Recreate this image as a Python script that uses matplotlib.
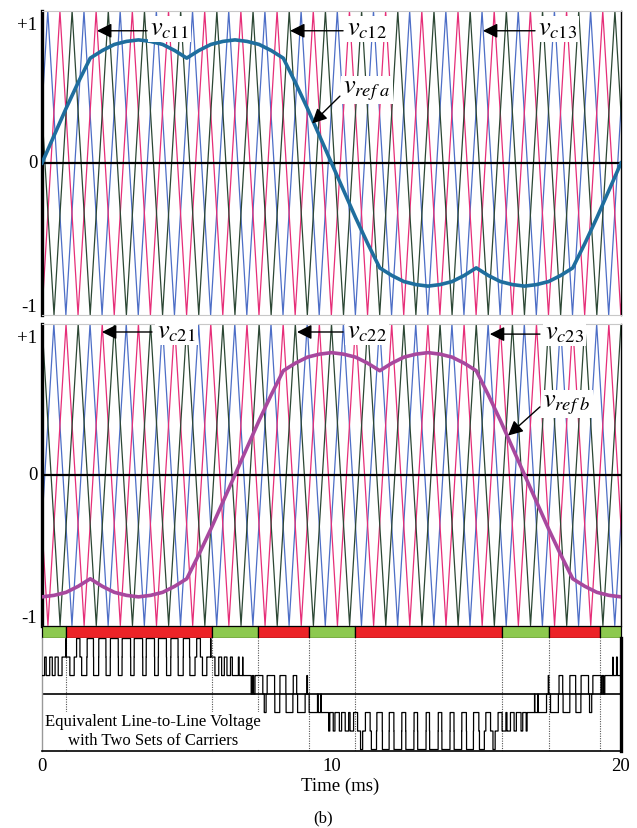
import numpy as np
import matplotlib
matplotlib.use("Agg")
import matplotlib.pyplot as plt

plt.rcParams['font.family'] = ['Liberation Serif', 'DejaVu Serif']
plt.rcParams['mathtext.fontset'] = 'stix'

# ---------------- data ----------------
time_ref_ms = np.linspace(0, 20, 49)          # sample instants (7.5 deg steps)
vref_a = [0.00, 0.18, 0.36, 0.53, 0.69, 0.74, 0.78, 0.80, 0.81, 0.80, 0.78, 0.74,
          0.69, 0.74, 0.78, 0.80, 0.81, 0.80, 0.78, 0.74, 0.69, 0.53, 0.36, 0.18,
          0.00, -0.18, -0.36, -0.53, -0.69, -0.74, -0.78, -0.80, -0.81, -0.80, -0.78, -0.74,
          -0.69, -0.74, -0.78, -0.80, -0.81, -0.80, -0.78, -0.74, -0.69, -0.53, -0.36, -0.18,
          0.00]
vref_b = [-0.81, -0.80, -0.78, -0.74, -0.69, -0.74, -0.78, -0.80, -0.81, -0.80, -0.78, -0.74,
          -0.69, -0.53, -0.36, -0.18, 0.00, 0.18, 0.36, 0.53, 0.69, 0.74, 0.78, 0.80,
          0.81, 0.80, 0.78, 0.74, 0.69, 0.74, 0.78, 0.80, 0.81, 0.80, 0.78, 0.74,
          0.69, 0.53, 0.36, 0.18, 0.00, -0.18, -0.36, -0.53, -0.69, -0.74, -0.78, -0.80,
          -0.81]

carrier_period_ms = 1.25
carrier_set1_peak_ms = [0.20, 0.62, 1.04]     # blue, pink, green (phase a)
carrier_set2_peak_ms = [0.41, 0.83, 1.25]     # blue, pink, green (phase b)
carrier_colors = ['#4D6EC6', '#E62E78', '#2C4734']

band_edges_ms = [0, 0.82, 5.87, 7.46, 9.22, 10.81, 15.89, 17.50, 19.26, 20]
band_colors = ['#8DC94F', '#EC2327', '#8DC94F', '#EC2327', '#8DC94F',
               '#EC2327', '#8DC94F', '#EC2327', '#8DC94F']

xtick_values = [0, 10, 20]
xtick_labels = ['0', '10', '20']

ref_a_color = '#1F6E9E'
ref_b_color = '#A8489E'

# ---------------- helpers ----------------
def carrier_vertices(tp, T, t0=-2.0, t1=22.0):
    k = np.arange(np.floor((t0 - tp) / (T / 2)), np.ceil((t1 - tp) / (T / 2)) + 1)
    t = tp + k * T / 2
    v = np.where(k % 2 == 0, 1.0, -1.0)
    return t, v

W, H = 637, 829
fig = plt.figure(figsize=(W / 100, H / 100), dpi=100)

def axes_px(x0, y0, x1, y1):
    return fig.add_axes([x0 / W, 1 - y1 / H, (x1 - x0) / W, (y1 - y0) / H])

ax1 = axes_px(42, 12, 621, 316)
ax2 = axes_px(42, 325, 621, 626.5)
axb = axes_px(42, 627, 621, 639)
ax3 = axes_px(42, 639, 621, 752)

def style_wave_axes(ax):
    ax.set_xlim(0, 20)
    ax.set_ylim(-1, 1)
    ax.set_xticks([])
    ax.set_yticks([])
    ax.spines['left'].set_linewidth(2.4)
    ax.spines['left'].set_color('black')
    ax.spines['right'].set_linewidth(1.0)
    ax.spines['right'].set_color('black')
    ax.spines['top'].set_color('#C8C8C8')
    ax.spines['bottom'].set_color('#C8C8C8')
    ax.axhline(0, color='black', lw=1.6, zorder=3)

for ax, peaks in ((ax1, carrier_set1_peak_ms), (ax2, carrier_set2_peak_ms)):
    style_wave_axes(ax)
    for tp, col in zip(peaks, carrier_colors):
        tv, vv = carrier_vertices(tp, carrier_period_ms)
        ax.plot(tv, vv, color=col, lw=0.9, zorder=2)

ax1.plot(time_ref_ms, vref_a, color=ref_a_color, lw=2.6, zorder=4)
ax2.plot(time_ref_ms, vref_b, color=ref_b_color, lw=2.6, zorder=4)

# y labels
def ylab(ax, txt, y, dy):
    ax.annotate(txt, xy=(0, y), xycoords=('axes fraction', 'data'),
                xytext=(-3.5, dy), textcoords='offset points',
                ha='right', va='center', fontsize=13.5)

for ax in (ax1, ax2):
    ylab(ax, '+1', 1, -9.5)
    ylab(ax, '0', 0, 0)
    ylab(ax, '-1', -1, 6.0)

# carrier / reference labels
arrow_kw = dict(arrowstyle='-|>', mutation_scale=22, lw=1.0, color='black',
                shrinkA=0, shrinkB=0)
box = dict(facecolor='white', edgecolor='none', pad=1.5)

def label(ax, txt, tx, ty, tail, tip):
    ax.annotate('', xy=tip, xytext=tail, arrowprops=arrow_kw, zorder=6)
    ax.text(tx, ty, txt, fontsize=19, ha='left', va='center', bbox=box, zorder=7)

label(ax1, r'$v_{c11}$', 3.73, 0.88, (3.63, 0.87), (1.90, 0.87))
label(ax1, r'$v_{c12}$', 10.54, 0.88, (10.40, 0.87), (8.57, 0.87))
label(ax1, r'$v_{c13}$', 17.13, 0.88, (17.03, 0.87), (15.23, 0.87))
label(ax1, r'$v_{ref\ a}$', 10.40, 0.48, (10.29, 0.44), (9.33, 0.26))

label(ax2, r'$v_{c21}$', 3.97, 0.95, (3.80, 0.947), (2.07, 0.947))
label(ax2, r'$v_{c22}$', 10.54, 0.95, (10.40, 0.947), (8.81, 0.947))
label(ax2, r'$v_{c23}$', 17.37, 0.94, (17.20, 0.933), (15.47, 0.933))
label(ax2, r'$v_{ref\ b}$', 17.31, 0.47, (17.20, 0.45), (16.10, 0.26))

# colour band
axb.set_xlim(0, 20)
axb.set_ylim(0, 1)
axb.axis('off')
for i, col in enumerate(band_colors):
    axb.broken_barh([(band_edges_ms[i], band_edges_ms[i + 1] - band_edges_ms[i])], (0, 1),
                    facecolors=col, edgecolors='black', linewidth=0.9, clip_on=False)

# line-to-line voltage (comparison of references with carriers)
t = np.linspace(0, 20, 40001)
ra = np.interp(t, time_ref_ms, vref_a)
rb = np.interp(t, time_ref_ms, vref_b)
va = np.zeros_like(t)
vb = np.zeros_like(t)
for tp in carrier_set1_peak_ms:
    tv, vv = carrier_vertices(tp, carrier_period_ms)
    va += (ra > np.interp(t, tv, vv))
for tp in carrier_set2_peak_ms:
    tv, vv = carrier_vertices(tp, carrier_period_ms)
    vb += (rb > np.interp(t, tv, vv))
vab = va - vb

ax3.set_xlim(0, 20)
ax3.set_ylim(-3.08, 3.03)
ax3.plot(t, vab, color='black', lw=0.9, drawstyle='steps-post', zorder=3)
ax3.axhline(0, color='black', lw=1.2, zorder=2)
for e in band_edges_ms[1:-1]:
    ax3.axvline(e, color='#555555', lw=0.8, ls=(0, (1, 1.2)), zorder=1)
ax3.set_yticks([])
ax3.set_xticks(xtick_values)
ax3.set_xticklabels(xtick_labels, fontsize=13.5)
ax3.tick_params(axis='x', length=0, pad=4)
ax3.spines['left'].set_color('#999999')
ax3.spines['left'].set_linewidth(1.0)
ax3.spines['right'].set_linewidth(2.4)
ax3.spines['bottom'].set_linewidth(1.2)
ax3.spines['top'].set_visible(False)
ax3.text(3.83, -1.98, 'Equivalent Line-to-Line Voltage\nwith Two Sets of Carriers',
         ha='center', va='center', fontsize=12, linespacing=1.25,
         bbox=dict(facecolor='white', edgecolor='none', pad=1), zorder=5)

fig.text(340 / W, 1 - 786 / H, 'Time (ms)', ha='center', va='center', fontsize=13.5)
fig.text(323 / W, 1 - 818 / H, '(b)', ha='center', va='center', fontsize=12)

fig.savefig('out.png', dpi=100)
